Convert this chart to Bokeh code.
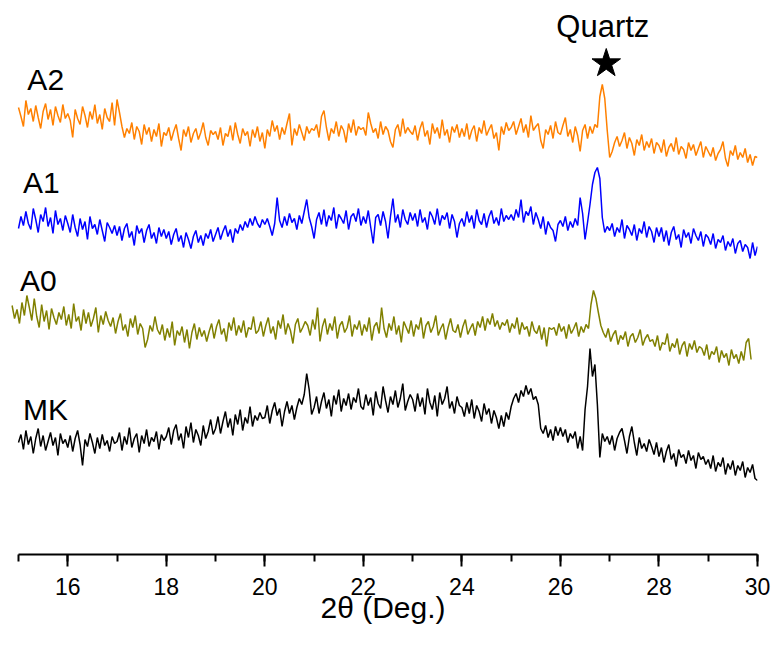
import numpy as np
from bokeh.plotting import figure
from bokeh.models import Range1d, SingleIntervalTicker
from bokeh.core.properties import value
from bokeh.embed import file_html
from bokeh.resources import INLINE

# ---- data (intensity, a.u.; each pattern stacked with an offset) ----
two_theta_start = 15.0
two_theta_start_a0 = 14.87
two_theta_step = 0.05

mk = [112,120,105,124,110,118,101,116,126,108,119,104,113,122,109,117,99,121,111,115,
      107,119,103,116,124,110,89,115,108,121,112,101,117,106,120,109,114,103,118,111,
      113,122,104,118,110,127,107,116,121,102,119,111,125,108,117,113,123,105,120,114,
      118,127,110,124,130,114,121,106,128,117,132,112,125,119,109,129,116,123,135,120,
      126,138,121,133,143,127,136,119,140,130,145,124,137,131,148,128,139,134,142,136,
      137,149,131,144,152,139,146,128,143,153,141,149,135,147,156,150,160,181,165,140,
      147,158,141,153,162,146,155,138,159,150,165,143,156,149,161,145,157,152,166,148,
      145,160,149,157,139,163,151,146,168,154,142,158,150,164,147,156,171,144,153,160,
      155,143,161,148,157,140,166,152,145,159,138,162,150,156,168,146,153,141,158,149,
      147,138,152,141,155,136,149,143,133,151,140,146,131,144,137,126,139,128,142,135,
      148,156,161,152,164,158,169,160,166,155,158,150,126,121,129,117,125,114,128,119,
      127,118,125,112,121,116,123,106,118,104,145,168,206,178,190,150,97,121,113,118,
      110,119,104,116,122,126,114,101,118,128,112,99,117,106,111,103,115,108,100,112,
      98,107,92,103,110,95,101,88,105,97,100,91,104,94,99,86,102,95,98,90,
      95,86,99,83,92,88,97,80,91,85,94,79,89,84,93,77,87,82,90,76,
      74]

a0 = [149,136,145,131,152,139,159,147,134,156,138,127,150,133,144,125,146,137,130,142,
      135,148,129,140,126,151,133,138,124,145,131,142,128,136,147,122,139,130,143,134,
      128,137,121,133,141,124,130,118,136,127,139,120,131,126,107,115,129,123,138,125,
      120,130,114,126,117,133,109,124,119,128,112,125,106,122,131,115,127,118,124,113,
      123,131,116,128,135,120,126,113,132,124,137,119,129,122,134,117,127,125,138,121,
      124,133,118,129,137,121,128,115,134,126,140,120,131,124,111,130,136,122,127,133,
      129,119,135,125,147,113,128,136,120,131,124,138,116,129,133,122,127,139,118,130,
      125,134,119,130,123,137,114,128,132,121,147,126,117,131,124,138,120,129,112,133,
      127,121,134,118,130,125,137,116,129,133,122,128,139,119,126,131,115,127,136,124,
      122,130,117,128,135,120,126,131,119,133,127,138,124,136,130,141,128,134,125,132,
      129,135,122,131,126,137,120,132,125,128,118,133,124,121,129,115,127,108,127,125,
      127,119,131,123,128,116,130,121,126,132,118,128,122,130,126,150,164,156,142,129,
      122,117,126,113,120,124,110,119,115,123,108,118,121,112,117,125,109,116,120,113,
      115,108,119,104,112,110,121,103,111,107,116,100,109,113,98,111,105,114,102,108,
      106,99,110,95,103,100,108,92,104,97,101,89,105,96,100,91,103,94,112,116,
      95]

a1 = [126,138,129,143,131,125,146,135,122,140,133,147,128,137,121,144,130,136,124,139,
      131,122,140,127,118,136,125,133,115,138,126,130,120,135,124,113,132,127,121,129,
      119,128,114,126,131,117,123,109,129,121,126,112,124,130,116,122,111,127,118,125,
      116,123,110,120,126,113,119,107,122,115,106,118,124,112,119,109,121,116,125,113,
      120,127,115,123,129,118,125,112,126,121,130,124,133,127,136,129,138,131,127,135,
      130,136,128,119,131,157,134,127,138,129,141,132,136,125,139,131,143,155,137,128,
      116,135,142,130,145,128,139,134,147,126,140,136,131,144,125,138,141,133,146,129,
      138,131,144,127,111,137,140,129,143,133,116,138,156,132,140,127,145,135,130,142,
      134,141,128,145,132,137,125,143,138,130,146,129,139,135,142,126,140,133,117,131,
      136,128,143,132,139,126,145,134,130,141,127,138,144,131,137,129,146,133,139,135,
      140,134,145,137,155,132,143,139,148,130,142,135,126,138,120,133,127,124,113,130,
      134,128,138,124,133,127,136,129,157,141,115,132,150,170,182,187,176,137,122,128,
      124,131,118,127,122,135,116,129,125,119,130,114,126,121,133,117,128,123,112,127,
      118,127,113,124,109,122,128,115,120,107,125,117,122,111,126,119,114,123,108,120,
      117,110,121,106,115,112,119,104,113,108,116,101,111,114,103,110,107,96,112,99,
      108]

a2 = [147,138,128,154,140,146,133,149,137,126,143,151,135,145,129,148,139,132,150,136,
      141,134,117,145,136,130,148,139,127,143,135,150,131,140,125,146,137,133,152,129,
      155,142,128,117,126,121,132,115,128,123,110,130,120,127,113,125,118,131,108,122,
      119,127,114,123,130,116,104,125,118,128,112,121,126,115,122,132,117,109,124,120,
      123,115,127,109,121,118,129,114,132,120,111,126,119,123,108,125,117,128,113,122,
      106,125,118,134,123,129,115,127,120,131,141,109,126,119,130,122,114,128,121,126,
      124,130,117,138,144,127,114,126,121,133,118,129,124,112,131,122,135,119,128,125,
      127,119,142,131,122,126,116,133,120,128,124,113,107,125,130,118,136,121,127,123,
      120,129,114,126,133,118,124,110,131,121,127,116,135,119,125,112,128,122,130,117,
      126,118,131,115,124,129,113,127,121,134,119,125,130,116,122,104,128,120,132,124,
      127,133,120,128,136,122,130,117,139,124,128,131,114,106,125,120,129,116,133,122,
      120,129,137,118,125,112,128,119,103,124,130,116,128,121,130,127,158,170,156,124,
      97,103,112,118,108,114,122,106,117,111,99,115,109,120,104,113,107,116,101,112,
      109,102,115,98,107,111,103,117,100,108,105,96,112,104,110,99,106,113,97,108,
      103,98,107,94,101,105,113,96,88,104,99,109,95,102,97,106,92,100,89,98,
      97]

sample_names = ["MK", "A0", "A1", "A2"]
stack_offsets = [0, 100, 200, 300]
quartz_label = "Quartz"
quartz_two_theta = 26.86

FONT = "Liberation Sans"

p = figure(width=772, height=643, output_backend="svg", toolbar_location=None,
           x_range=Range1d(14.797, 30.0), y_range=Range1d(0, 546),
           y_axis_location=None, min_border_left=8, min_border_right=15,
           min_border_top=8, min_border_bottom=89)
p.outline_line_color = None
p.xgrid.visible = False
p.ygrid.visible = False
p.background_fill_color = "white"

series = {
    "MK": (mk, two_theta_start, "black"),
    "A0": (a0, two_theta_start_a0, "#808000"),
    "A1": (a1, two_theta_start, "#0000FF"),
    "A2": (a2, two_theta_start, "#FF8000"),
}
for name, off in zip(sample_names, stack_offsets):
    vals, x0, col = series[name]
    xs = x0 + two_theta_step * np.arange(len(vals))
    ys = np.array(vals, dtype=float) + off
    p.line(xs, ys, line_color=col, line_width=1.5)

# sample labels
label_x = [15.18, 15.09, 15.03, 15.09]
label_y = [475, 372, 274, 145]
p.text(x=label_x, y=label_y, text=["A2", "A1", "A0", "MK"],
       text_font=value(FONT), text_font_size="30px", text_color="black",
       text_baseline="alphabetic", text_align="left")

# quartz marker
p.scatter([quartz_two_theta + 0.07], [491], marker="star", size=30,
          fill_color="black", line_color="black")
p.text(x=[quartz_two_theta], y=[528], text=[quartz_label],
       text_font=value(FONT), text_font_size="31px", text_color="black",
       text_baseline="alphabetic", text_align="center")

ax = p.xaxis[0]
ax.bounds = (15, 30)
ax.ticker = SingleIntervalTicker(interval=2, num_minor_ticks=2)
ax.axis_label = "2θ (Deg.)"
ax.axis_label_text_font = FONT
ax.axis_label_text_font_size = "30px"
ax.axis_label_text_font_style = "normal"
ax.axis_label_text_color = "black"
ax.axis_label_standoff = -7
ax.major_label_text_font = FONT
ax.major_label_text_font_size = "23px"
ax.major_label_text_color = "black"
ax.major_label_standoff = 11
ax.axis_line_width = 2
ax.axis_line_color = "black"
ax.major_tick_line_width = 2
ax.minor_tick_line_width = 2
ax.major_tick_line_color = "black"
ax.minor_tick_line_color = "black"
ax.major_tick_out = 12
ax.major_tick_in = 0
ax.minor_tick_out = 7
ax.minor_tick_in = 0

open("out.html", "w").write(file_html(p, INLINE))
